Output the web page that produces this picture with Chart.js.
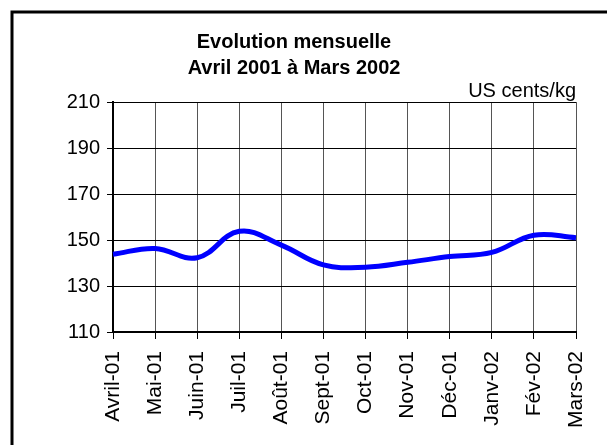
<!DOCTYPE html>
<html>
<head>
<meta charset="utf-8">
<script src="https://cdn.jsdelivr.net/npm/chart.js@4/dist/chart.umd.min.js"></script>
<style>
  html, body { margin: 0; padding: 0; background: #fff; }
  #wrap { width: 607px; height: 445px; }
</style>
</head>
<body>
<div id="wrap"><canvas id="prix"></canvas></div>
<script>
var mois = ['Avril-01', 'Mai-01', 'Juin-01', 'Juil-01', 'Août-01', 'Sept-01', 'Oct-01', 'Nov-01', 'Déc-01', 'Janv-02', 'Fév-02', 'Mars-02'];
var prix = [143.8, 146.3, 142.3, 153.8, 147.8, 139.2, 138.2, 140.3, 142.8, 144.6, 152.1, 151.0];
var titre = ['Evolution mensuelle', 'Avril 2001 à Mars 2002'];
var unite = 'US cents/kg';
var yMin = 110, yMax = 210, yPas = 20;

// cadre : seuls les bords gauche et haut sont visibles
var cadre = {
  id: 'cadre',
  beforeDraw: function(chart) {
    var c = chart.ctx;
    c.save();
    c.strokeStyle = '#000';
    c.lineWidth = 3;
    c.beginPath();
    c.moveTo(12, 445);
    c.lineTo(12, 12);
    c.lineTo(607, 12);
    c.stroke();
    c.restore();
  }
};

var ctx = document.getElementById('prix').getContext('2d');

var myChart = new Chart(ctx, {
  type: 'line',
  data: {
    labels: mois,
    datasets: [{
      data: prix,
      borderColor: '#0000FF',
      borderWidth: 5,
      tension: 0.4,
      pointRadius: 0,
      fill: false
    }]
  },
  options: {
    responsive: true,
    maintainAspectRatio: false,
    animation: false,
    layout: {
      padding: { left: 12, right: 31, top: 0, bottom: 0 }
    },
    plugins: {
      legend: { display: false },
      tooltip: { enabled: false },
      title: {
        display: true,
        text: titre,
        color: '#000',
        font: { family: 'Liberation Sans, Arial', size: 20, weight: 'bold', lineHeight: 1.3 },
        padding: { top: 29, bottom: 0 }
      },
      subtitle: {
        display: true,
        text: unite,
        align: 'end',
        color: '#000',
        font: { family: 'Liberation Sans, Arial', size: 20, lineHeight: 1.0 },
        padding: { top: 0, bottom: 1 }
      }
    },
    scales: {
      x: {
        afterFit: function(scale) {
          scale.height = 113;
          scale.paddingLeft = 0;
          scale.paddingRight = 0;
        },
        grid: { color: '#555', lineWidth: 1, tickLength: 7, tickColor: '#000' },
        border: { color: '#000', width: 2 },
        ticks: {
          color: '#000',
          font: { family: 'Liberation Sans, Arial', size: 21 },
          minRotation: 90,
          maxRotation: 90,
          padding: 12,
          autoSkip: false
        }
      },
      y: {
        min: yMin,
        max: yMax,
        afterFit: function(scale) { scale.width = 101; },
        grid: { color: '#000', lineWidth: 1, tickLength: 6, tickColor: '#000' },
        border: { color: '#000', width: 2 },
        ticks: {
          stepSize: yPas,
          color: '#000',
          font: { family: 'Liberation Sans, Arial', size: 20 },
          padding: 7
        }
      }
    }
  },
  plugins: [cadre]
});
</script>
</body>
</html>
